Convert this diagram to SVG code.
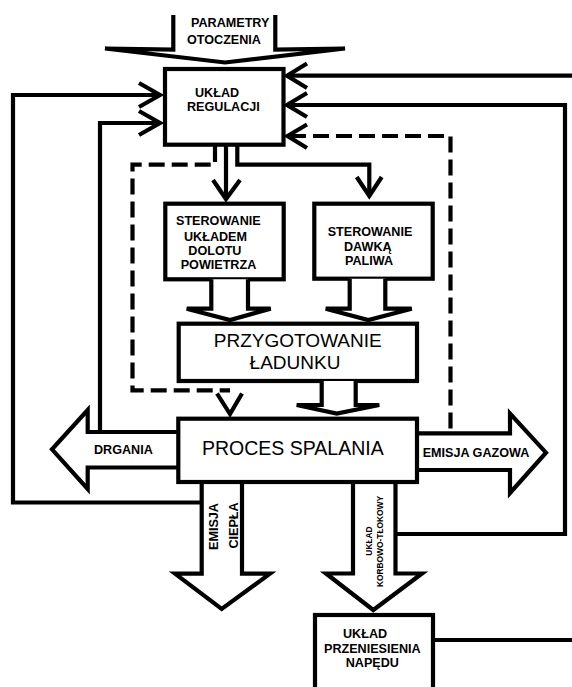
<svg xmlns="http://www.w3.org/2000/svg" width="572" height="687" viewBox="0 0 572 687">
<style>
.box{fill:#fff;stroke:#000;stroke-width:4.2}
.ln{fill:none;stroke:#000;stroke-width:4.2;stroke-linejoin:miter}
.ds{fill:none;stroke:#000;stroke-width:4.2;stroke-dasharray:16 7}
.ar{fill:#fff;stroke:#000;stroke-width:4.2;stroke-linejoin:miter}
.b{font-family:"Liberation Sans",Arial,sans-serif;font-weight:bold;font-size:12.6px;fill:#000}
.r{font-family:"Liberation Sans",Arial,sans-serif;font-size:19.5px;fill:#000}
.s{font-family:"Liberation Sans",Arial,sans-serif;font-weight:bold;font-size:8.4px;fill:#000}
</style>
<rect width="572" height="687" fill="#fff"/>
<g id="connectors">
  <path class="ln" d="M202,502.5 H13 V95 H160"/>
  <path class="ln" d="M100,432 V123 H160"/>
  <path class="ln" d="M139,83 L160,95 L139,107"/>
  <path class="ln" d="M139,111 L160,123 L139,135"/>
  <path class="ln" d="M572,75.7 H288"/>
  <path class="ln" d="M395,534 H565 V105 H288"/>
  <path class="ln" d="M307,63.5 L287,75.7 L307,88"/>
  <path class="ln" d="M307,93 L287,105 L307,117"/>
  <path class="ln" d="M433,640 H572"/>
  <path class="ds" d="M290,136 H450.5 V433"/>
  <path class="ln" d="M307,124.5 L287.5,136 L307,148"/>
  <path class="ds" d="M215,146 V164.7 H132.5 V390.3 H230"/>
  <path class="ln" d="M217,393.5 L230,414 L242,393.5"/>
  <path class="ln" d="M226,146 V198"/>
  <path class="ln" d="M213,180 L226,199 L240,180"/>
  <path class="ln" d="M237.3,146 V164.7 H369.3 V195"/>
  <path class="ln" d="M356.7,177 L369.3,196 L381.7,177"/>
</g>
<g id="n-parametry">
  <path class="ar" d="M173.3,15 V49.5 L105,48.5 L225,62.5 L345,48.5 L275.3,49.5 V15"/>
  <text class="b" x="191" y="27">PARAMETRY</text>
  <text class="b" x="187" y="43.5">OTOCZENIA</text>
</g>
<g id="n-uklad-regulacji">
  <rect class="box" x="165" y="69" width="118.5" height="75.7"/>
  <text class="b" x="195" y="97">UKŁAD</text>
  <text class="b" x="187" y="111">REGULACJI</text>
</g>
<g id="n-sterowanie-dolotu">
  <rect class="box" x="165.3" y="203.7" width="118.4" height="75.6"/>
  <text class="b" x="176" y="225">STEROWANIE</text>
  <text class="b" x="184" y="240.7">UKŁADEM</text>
  <text class="b" x="188.3" y="255">DOLOTU</text>
  <text class="b" x="180.7" y="269.3">POWIETRZA</text>
</g>
<g id="n-sterowanie-paliwa">
  <rect class="box" x="314.3" y="203.7" width="118.4" height="75"/>
  <text class="b" x="327.7" y="236">STEROWANIE</text>
  <text class="b" x="344" y="250.7">DAWKĄ</text>
  <text class="b" x="345" y="265">PALIWA</text>
</g>
<g id="a-dolot">
  <path class="ar" d="M211.3,279.3 V308.7 H186.7 L230,320 L270.7,308.7 H248 V279.3"/>
</g>
<g id="a-paliwo">
  <path class="ar" d="M349.7,278.7 V308.7 H325.7 L368.3,320 L411.7,308.7 H385.3 V278.7"/>
</g>
<g id="n-przygotowanie">
  <rect class="box" x="178.7" y="323.7" width="238.3" height="57.3"/>
  <text class="r" x="297.8" y="347.3" text-anchor="middle" style="font-size:19px">PRZYGOTOWANIE</text>
  <text class="r" x="295" y="368.5" text-anchor="middle" style="font-size:19px">ŁADUNKU</text>
</g>
<g id="a-ladunek">
  <path class="ar" d="M321.7,381 V405 H296.7 L336.7,413.5 L379.3,405 H355.7 V381"/>
</g>
<g id="n-drgania">
  <path class="ar" d="M178.3,432 H87.7 V410 L52,449.3 L87.7,489 V467.5 H178.3"/>
  <text class="b" x="94" y="454">DRGANIA</text>
</g>
<g id="n-emisja-gazowa">
  <path class="ar" d="M417,433.3 H510 V413.5 L546,452.7 L510,493 V470 H417"/>
  <text class="b" x="422.7" y="457.3">EMISJA GAZOWA</text>
</g>
<g id="n-emisja-ciepla">
  <path class="ar" d="M201.7,482 V573.7 H175 L221.7,609 L270,573.7 H242 V482"/>
  <text class="b" transform="translate(217.8,526.5) rotate(-90)" text-anchor="middle">EMISJA</text>
  <text class="b" transform="translate(237.8,525.5) rotate(-90)" text-anchor="middle">CIEPŁA</text>
</g>
<g id="n-korbowo">
  <path class="ar" d="M353,482 V573.5 H326 L373.3,610 L422,573.5 H395.5 V482"/>
  <text class="s" transform="translate(371.6,541) rotate(-90)" text-anchor="middle">UKŁAD</text>
  <text class="s" transform="translate(383.2,541.5) rotate(-90)" text-anchor="middle">KORBOWO-TŁOKOWY</text>
</g>
<g id="n-proces-spalania">
  <rect class="box" x="178.3" y="418.7" width="238.7" height="63.3"/>
  <text class="r" x="202" y="455">PROCES SPALANIA</text>
</g>
<g id="n-przeniesienie">
  <rect class="box" x="315" y="615" width="118" height="90"/>
  <text class="b" x="343" y="638.3">UKŁAD</text>
  <text class="b" x="324" y="652.7">PRZENIESIENIA</text>
  <text class="b" x="345.7" y="667.3">NAPĘDU</text>
</g>
</svg>
